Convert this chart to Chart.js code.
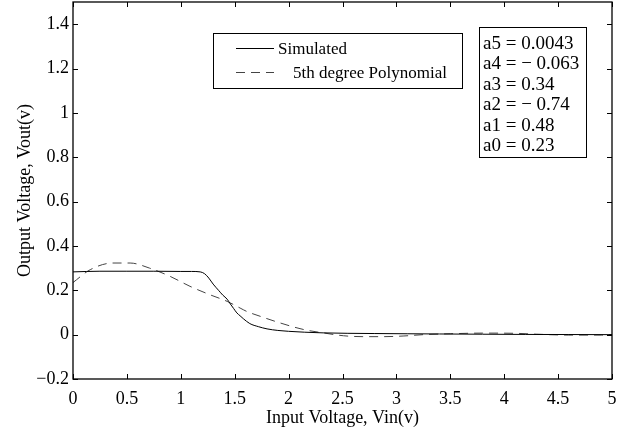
<!DOCTYPE html>
<html>
<head>
<meta charset="utf-8">
<script src="https://cdn.jsdelivr.net/npm/chart.js@4.4.1/dist/chart.umd.min.js"></script>
<style>
  html, body { margin: 0; padding: 0; background: #fff; }
  canvas { display: block; }
</style>
</head>
<body>
<canvas id="c" width="624" height="429"></canvas>
<script>
// ---- data ----
const simX = [0, 0.25, 0.5, 0.75, 1.0, 1.1, 1.18, 1.22, 1.26, 1.30, 1.35, 1.39, 1.43, 1.46, 1.49, 1.52, 1.55, 1.58, 1.64, 1.72, 1.80, 1.90, 2.0, 2.15, 2.32, 2.55, 2.8, 3.1, 3.4, 3.8, 4.2, 4.6, 5.0];
const simY = [0.283, 0.286, 0.286, 0.286, 0.285, 0.285, 0.283, 0.275, 0.255, 0.228, 0.200, 0.178, 0.160, 0.138, 0.118, 0.098, 0.085, 0.072, 0.050, 0.036, 0.026, 0.019, 0.015, 0.011, 0.008, 0.006, 0.005, 0.004, 0.003, 0.002, 0.001, 0.0005, 0.0];
const polyX = [0, 0.16, 0.37, 0.53, 0.71, 0.90, 1.085, 1.27, 1.43, 1.55, 1.61, 1.735, 1.92, 2.14, 2.32, 2.51, 2.69, 2.88, 3.07, 3.25, 3.5, 3.8, 4.1, 4.3, 4.6, 4.9, 5.0];
const polyY = [0.235, 0.293, 0.323, 0.323, 0.300, 0.263, 0.218, 0.180, 0.150, 0.120, 0.105, 0.083, 0.053, 0.023, 0.008, -0.005, -0.009, -0.009, -0.006, 0.0, 0.004, 0.007, 0.006, 0.002, -0.002, -0.002, 0.0];
const seriesNames = ['Simulated', '5th degree Polynomial'];
const xTicks = [0, 0.5, 1, 1.5, 2, 2.5, 3, 3.5, 4, 4.5, 5];
const yTicks = [-0.2, 0, 0.2, 0.4, 0.6, 0.8, 1, 1.2, 1.4];
const coefLabels = ['a5 = 0.0043', 'a4 = \u2212 0.063', 'a3 = 0.34', 'a2 = \u2212 0.74', 'a1 = 0.48', 'a0 = 0.23'];
const xTitle = 'Input Voltage, Vin(v)';
const yTitle = 'Output Voltage, Vout(v)';

const FONT = '"Liberation Serif", "Times New Roman", serif';
const pts = (xs, ys) => xs.map((v, i) => ({ x: v, y: ys[i] }));
const fmt = v => { const r = Math.round(v * 10) / 10; return (r < 0 ? '\u2212' : '') + String(Math.abs(r)); };

const frameTicks = {
  id: 'frameTicks',
  afterDatasetsDraw(chart) {
    const { ctx, chartArea: a, scales: { x, y } } = chart;
    ctx.save();
    ctx.strokeStyle = '#000';
    ctx.lineWidth = 1;
    ctx.beginPath();
    x.ticks.forEach(t => {
      const px = Math.round(x.getPixelForValue(t.value)) + 0.5;
      ctx.moveTo(px, a.bottom); ctx.lineTo(px, a.bottom - 5);
      ctx.moveTo(px, a.top); ctx.lineTo(px, a.top + 5);
    });
    y.ticks.forEach(t => {
      const py = Math.round(y.getPixelForValue(t.value)) + 0.5;
      ctx.moveTo(a.left, py); ctx.lineTo(a.left + 5, py);
      ctx.moveTo(a.right, py); ctx.lineTo(a.right - 5, py);
    });
    ctx.stroke();
    ctx.lineWidth = 1.3;
    ctx.strokeRect(a.left, a.top, a.right - a.left, a.bottom - a.top);

    // legend box
    ctx.fillStyle = '#fff';
    ctx.fillRect(213, 33, 249, 55);
    ctx.lineWidth = 1;
    ctx.strokeStyle = '#000';
    ctx.strokeRect(213.5, 33.5, 249, 55);
    ctx.font = '17px ' + FONT;
    ctx.textBaseline = 'middle';
    ctx.textAlign = 'left';
    const ds = chart.data.datasets;
    const rows = [{ y: 48.5, tx: 278 }, { y: 72.5, tx: 293 }];
    ds.forEach((d, i) => {
      ctx.save();
      ctx.strokeStyle = d.borderColor;
      ctx.lineWidth = d.borderWidth;
      ctx.setLineDash(d.borderDash || []);
      ctx.beginPath();
      ctx.moveTo(236, rows[i].y); ctx.lineTo(274, rows[i].y);
      ctx.stroke();
      ctx.restore();
      ctx.fillStyle = '#000';
      ctx.fillText(d.label, rows[i].tx, rows[i].y + 1);
    });

    // coefficient box
    ctx.fillStyle = '#fff';
    ctx.fillRect(479, 27, 107, 130);
    ctx.strokeStyle = '#000';
    ctx.strokeRect(479.5, 27.5, 107, 130);
    ctx.fillStyle = '#000';
    ctx.font = '19px ' + FONT;
    coefLabels.forEach((s, i) => ctx.fillText(s, 483, 44 + i * 20.4));
    ctx.restore();
  }
};

new Chart(document.getElementById('c'), {
  type: 'line',
  data: {
    datasets: [
      { label: seriesNames[0], data: pts(simX, simY), borderColor: '#000', borderWidth: 1, pointRadius: 0, cubicInterpolationMode: 'monotone', fill: false },
      { label: seriesNames[1], data: pts(polyX, polyY), borderColor: '#444', borderWidth: 1, borderDash: [9, 6], pointRadius: 0, cubicInterpolationMode: 'monotone', fill: false }
    ]
  },
  options: {
    responsive: false,
    animation: false,
    devicePixelRatio: 1,
    layout: { padding: { top: 2, right: 12, left: 0, bottom: 0 } },
    plugins: { legend: { display: false }, tooltip: { enabled: false } },
    scales: {
      x: {
        type: 'linear', min: 0, max: 5,
        afterBuildTicks: s => { s.ticks = xTicks.map(v => ({ value: v })); },
        afterFit: s => { s.height = 50; s.paddingLeft = 0; s.paddingRight = 0; },
        grid: { display: false, drawTicks: false },
        border: { display: false },
        ticks: { padding: 9, color: '#000', font: { family: FONT, size: 18 }, maxRotation: 0, autoSkip: false, callback: v => fmt(v) },
        title: { display: true, text: xTitle, color: '#000', font: { family: FONT, size: 18 }, padding: { top: 0, bottom: 0 } }
      },
      y: {
        type: 'linear', min: -0.2, max: 1.5,
        afterBuildTicks: s => { s.ticks = yTicks.map(v => ({ value: v })); },
        afterFit: s => { s.width = 73; s.paddingTop = 0; s.paddingBottom = 0; },
        grid: { display: false, drawTicks: false },
        border: { display: false },
        ticks: { padding: 4, color: '#000', font: { family: FONT, size: 18 }, autoSkip: false, callback: v => fmt(v) },
        title: { display: true, text: yTitle, color: '#000', font: { family: FONT, size: 18 }, padding: { top: 14, bottom: 14 } }
      }
    }
  },
  plugins: [frameTicks]
});
</script>
</body>
</html>
